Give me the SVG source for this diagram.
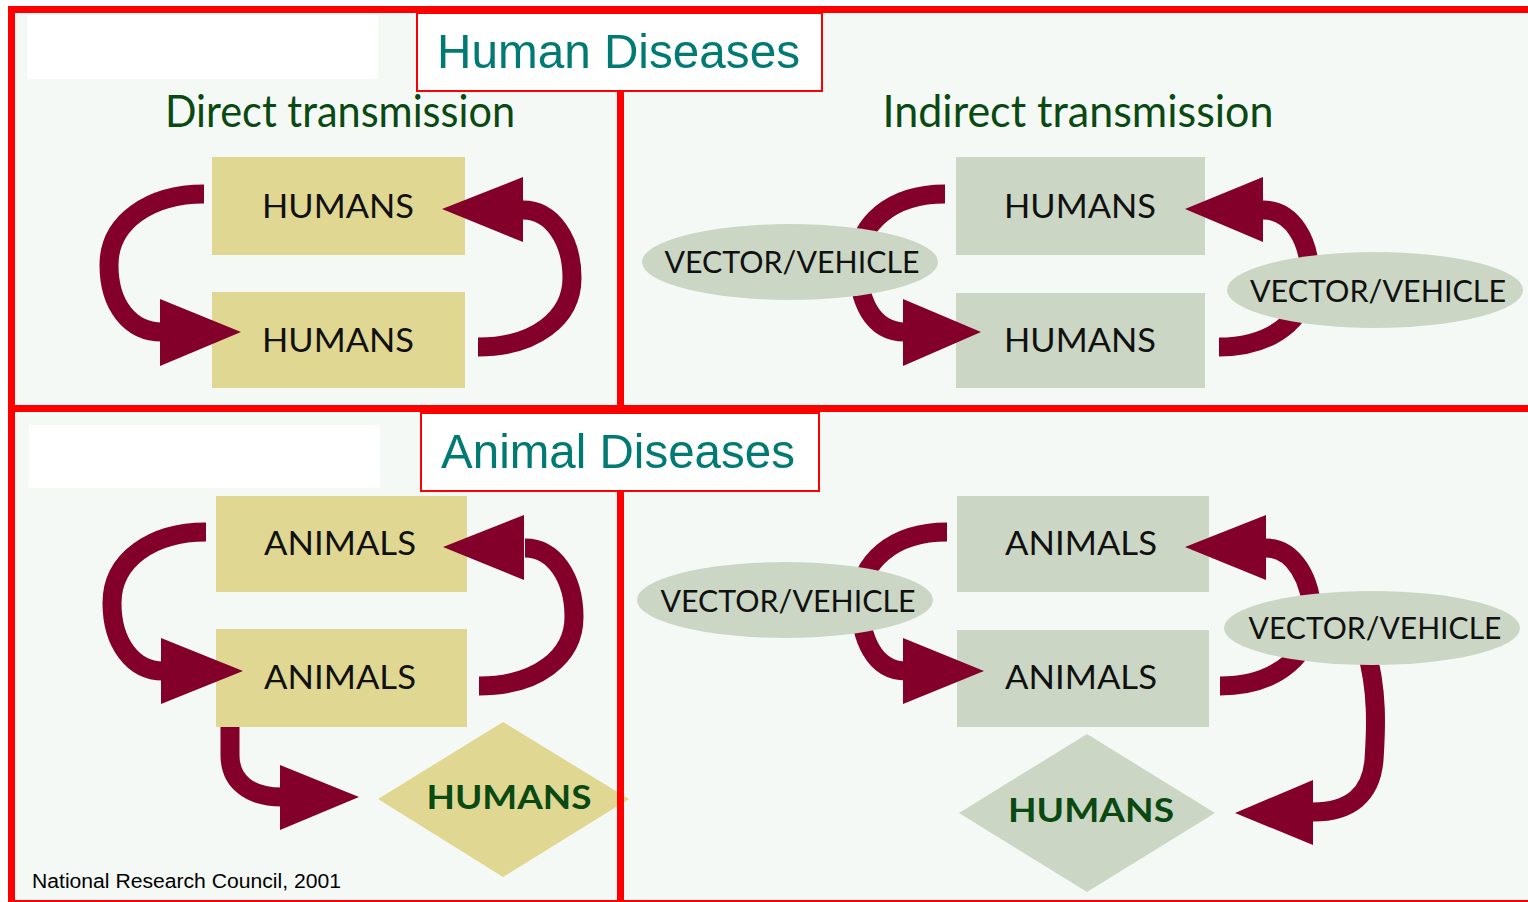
<svg xmlns="http://www.w3.org/2000/svg" width="1528" height="902" viewBox="0 0 1528 902">
<style>
.bg{fill:#f5f9f5}
.red{fill:#ff0000}
.tbox{fill:#ffffff;stroke:#ff0000;stroke-width:2}
.title{font-family:"Liberation Sans",Arial,sans-serif;fill:#007a73;font-size:49px}
.head{font-family:Lato,"Noto Sans",sans-serif;fill:#0a4a12;font-size:44px;text-anchor:middle}
.khaki{fill:#e0d892}
.sage{fill:#cbd7c4}
.lbl{font-family:Lato,"Noto Sans",sans-serif;fill:#111111;font-size:33px;text-anchor:middle}
.vv{font-family:Lato,"Noto Sans",sans-serif;fill:#111111;font-size:31px;text-anchor:middle}
.bold{font-family:Lato,"Noto Sans",sans-serif;fill:#0a4a12;font-size:33px;font-weight:bold;text-anchor:middle}
.arc{fill:none;stroke:#82002a;stroke-width:19}
.head-a{fill:#82002a}
.cite{font-family:"Liberation Sans",Arial,sans-serif;fill:#000000;font-size:20px}
</style>
<rect x="0" y="0" width="1528" height="902" fill="#ffffff"/>
<rect class="bg" x="12" y="10" width="1516" height="892"/>
<rect x="27" y="15" width="351" height="64" fill="#ffffff"/>
<rect x="29" y="425" width="351" height="63" fill="#ffffff"/>

<!-- rectangle nodes -->
<g id="h-direct-top"><rect class="khaki" x="212" y="157" width="253" height="98"/><text class="lbl" x="338" y="218" textLength="152" lengthAdjust="spacingAndGlyphs">HUMANS</text></g>
<g id="h-direct-bottom"><rect class="khaki" x="212" y="292" width="253" height="96"/><text class="lbl" x="338" y="352" textLength="152" lengthAdjust="spacingAndGlyphs">HUMANS</text></g>
<g id="h-indirect-top"><rect class="sage" x="956" y="157" width="249" height="98"/><text class="lbl" x="1080" y="218" textLength="152" lengthAdjust="spacingAndGlyphs">HUMANS</text></g>
<g id="h-indirect-bottom"><rect class="sage" x="956" y="293" width="249" height="95"/><text class="lbl" x="1080" y="352" textLength="152" lengthAdjust="spacingAndGlyphs">HUMANS</text></g>
<g id="a-direct-top"><rect class="khaki" x="216" y="496" width="251" height="96"/><text class="lbl" x="340" y="555" textLength="152" lengthAdjust="spacingAndGlyphs">ANIMALS</text></g>
<g id="a-direct-bottom"><rect class="khaki" x="216" y="629" width="251" height="98"/><text class="lbl" x="340" y="689" textLength="152" lengthAdjust="spacingAndGlyphs">ANIMALS</text></g>
<g id="a-indirect-top"><rect class="sage" x="957" y="496" width="252" height="96"/><text class="lbl" x="1081" y="555" textLength="152" lengthAdjust="spacingAndGlyphs">ANIMALS</text></g>
<g id="a-indirect-bottom"><rect class="sage" x="957" y="630" width="252" height="97"/><text class="lbl" x="1081" y="689" textLength="152" lengthAdjust="spacingAndGlyphs">ANIMALS</text></g>
<g id="humans-diamond-left"><polygon class="khaki" points="378,799 503,722 629,799 503,877"/><text class="bold" x="509" y="809" textLength="165" lengthAdjust="spacingAndGlyphs">HUMANS</text></g>
<g id="humans-diamond-right"><polygon class="sage" points="959,813 1087,734 1215,813 1087,892"/><text class="bold" x="1091" y="822" textLength="166" lengthAdjust="spacingAndGlyphs">HUMANS</text></g>

<!-- connectors -->
<g id="connectors">
<path class="arc" d="M204,194 C150,194 109,222 109,265 C109,305 130,332 162,332"/>
<polygon class="head-a" points="160,299 241,332 160,366"/>
<path class="arc" d="M478,347 C535,347 572,318 572,278 C572,240 552,210 523,210"/>
<polygon class="head-a" points="523,177 442,209 523,242"/>
<path class="arc" d="M945,194 C890,194 858,225 858,262 C858,300 872,332 905,332"/>
<polygon class="head-a" points="903,299 981,332 903,366"/>
<path class="arc" d="M1219,347 C1280,347 1310,310 1310,278 C1310,240 1292,210 1263,210"/>
<polygon class="head-a" points="1263,177 1185,209 1263,242"/>
<path class="arc" d="M206,532 C152,532 112,560 112,603 C112,643 133,671 163,671"/>
<polygon class="head-a" points="161,638 243,671 161,704"/>
<path class="arc" d="M479,686 C537,686 574,657 574,617 C574,578 554,548 525,548"/>
<polygon class="head-a" points="524,515 443,547 524,580"/>
<path class="arc" d="M230,727 L230,755 C230,782 250,797 282,797"/>
<polygon class="head-a" points="280,765 359,797 280,830"/>
<path class="arc" d="M947,532 C892,532 860,563 860,600 C860,638 874,671 906,671"/>
<polygon class="head-a" points="903,638 984,671 903,704"/>
<path class="arc" d="M1220,686 C1281,686 1312,650 1312,617 C1312,580 1294,548 1266,548"/>
<polygon class="head-a" points="1266,515 1185,547 1266,580"/>
<path class="arc" d="M1366,650 C1378,690 1376,730 1374,760 C1371,795 1350,812 1313,812"/>
<polygon class="head-a" points="1313,780 1235,813 1313,845"/>
</g>

<!-- ellipse nodes -->
<g id="vv-h-left"><ellipse class="sage" cx="790" cy="262" rx="148" ry="38"/><text class="vv" x="792" y="273" textLength="255" lengthAdjust="spacingAndGlyphs">VECTOR/VEHICLE</text></g>
<g id="vv-h-right"><ellipse class="sage" cx="1375" cy="290" rx="148" ry="38"/><text class="vv" x="1378" y="302" textLength="256" lengthAdjust="spacingAndGlyphs">VECTOR/VEHICLE</text></g>
<g id="vv-a-left"><ellipse class="sage" cx="785" cy="600" rx="148" ry="38"/><text class="vv" x="788" y="612" textLength="255" lengthAdjust="spacingAndGlyphs">VECTOR/VEHICLE</text></g>
<g id="vv-a-right"><ellipse class="sage" cx="1372" cy="628" rx="148" ry="37"/><text class="vv" x="1375" y="639" textLength="253" lengthAdjust="spacingAndGlyphs">VECTOR/VEHICLE</text></g>

<!-- headings -->
<text class="head" x="340" y="127" textLength="350" lengthAdjust="spacingAndGlyphs">Direct transmission</text>
<text class="head" x="1078" y="127" textLength="391" lengthAdjust="spacingAndGlyphs">Indirect transmission</text>

<!-- red frame -->
<rect class="red" x="8" y="6" width="1520" height="7"/>
<rect class="red" x="8" y="6" width="7" height="896"/>
<rect class="red" x="8" y="405" width="1520" height="7"/>
<rect class="red" x="617" y="6" width="7" height="896"/>
<rect class="red" x="8" y="900" width="1520" height="2"/>

<!-- titles -->
<g id="title-human"><rect class="tbox" x="417" y="13" width="405" height="78"/><text class="title" x="437" y="68" textLength="363" lengthAdjust="spacingAndGlyphs">Human Diseases</text></g>
<g id="title-animal"><rect class="tbox" x="421" y="413" width="398" height="78"/><text class="title" x="441" y="468" textLength="354" lengthAdjust="spacingAndGlyphs">Animal Diseases</text></g>

<text class="cite" x="32" y="888" textLength="309" lengthAdjust="spacingAndGlyphs">National Research Council, 2001</text>
</svg>
